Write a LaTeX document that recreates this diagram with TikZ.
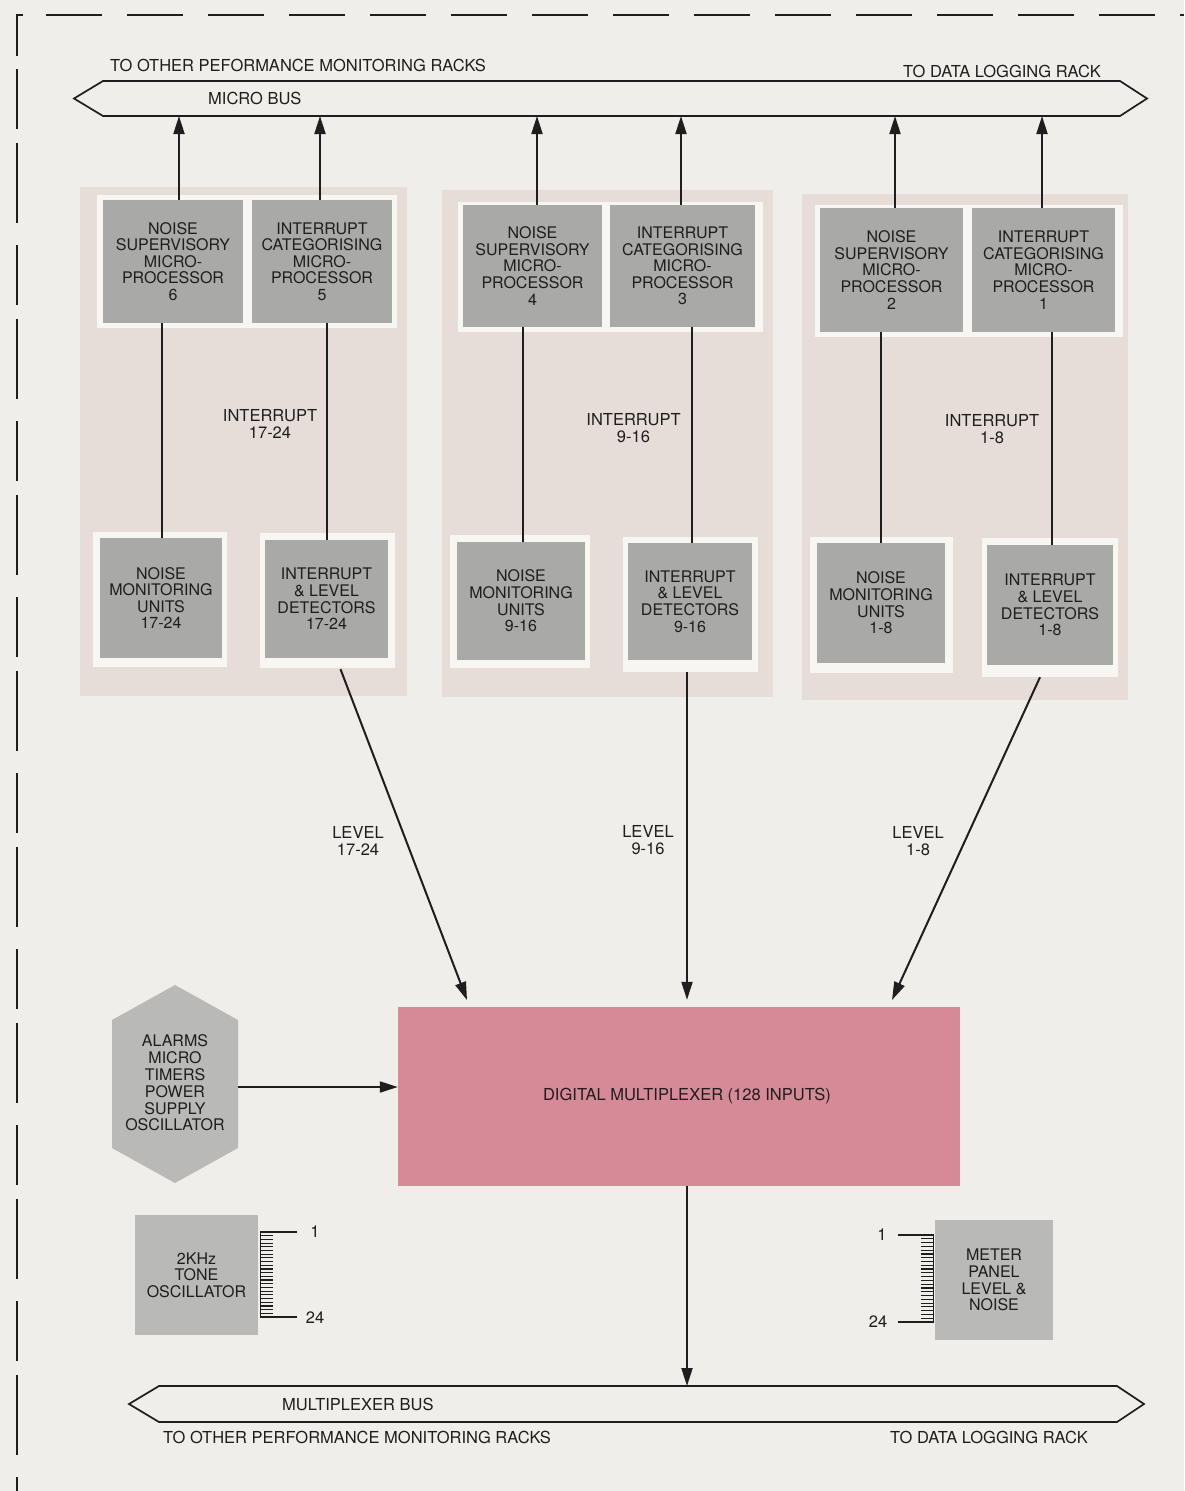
\documentclass[tikz,border=0pt]{standalone}
\usepackage{fontspec}
\setmainfont{TeX Gyre Heros}
\usetikzlibrary{arrows.meta,calc}
\definecolor{pagebg}{HTML}{EFEEEA}
\definecolor{panelc}{HTML}{E6DDD8}
\definecolor{framec}{HTML}{F7F6F3}
\definecolor{boxgray}{HTML}{A9A9A7}
\definecolor{lightgray}{HTML}{B9B9B7}
\definecolor{muxpink}{HTML}{D68A98}
\definecolor{ink}{HTML}{1E1E1E}
\begin{document}
\begin{tikzpicture}[x=1pt,y=-1pt,
  gbox/.style 2 args={fill=boxgray,inner sep=0pt,minimum width=#1,minimum height=#2,align=center,text=ink,font=\fontsize{16}{16.6}\selectfont},
  lbl/.style={inner sep=0pt,text=ink,align=center,font=\fontsize{16.5}{17}\selectfont},
  conn/.style={draw=ink,line width=2pt},
  arr/.style={draw=ink,line width=2pt,-{Triangle[length=18pt,width=11pt]}},
  bus/.style={draw=ink,line width=1.7pt,line join=miter},
  tick/.style={draw=ink,line width=1.2pt}]
\useasboundingbox[fill=pagebg] (0,0) rectangle (1184,1491);
% dashed frame
\draw[ink,line width=1.6pt] (23,15) -- (17,15) -- (17,56);
\draw[ink,line width=1.6pt,dash pattern=on 56pt off 25pt] (46,15) -- (1184,15);
\draw[ink,line width=1.6pt,dash pattern=on 60pt off 14pt on 80pt off 22pt] (17,69) -- (17,1491);
% rack panels
\fill[panelc] (80,187) rectangle (407,696);
\fill[panelc] (442,190) rectangle (773,697);
\fill[panelc] (802,194) rectangle (1128,700);
% white frames
\fill[framec] (97,195) rectangle (397,328);
\fill[framec] (93,532) rectangle (227,667);
\fill[framec] (260,533) rectangle (395,668);
\fill[framec] (458,202) rectangle (763,332);
\fill[framec] (450,535) rectangle (590,668);
\fill[framec] (623,537) rectangle (758,672);
\fill[framec] (815,205) rectangle (1123,337);
\fill[framec] (810,537) rectangle (953,673);
\fill[framec] (982,538) rectangle (1118,677);
% buses
\draw[bus] (74,98.5) -- (103,81) -- (1120,81) -- (1147,98.5) -- (1120,116) -- (103,116) -- cycle;
\coordinate (mbusS) at (600,116);
\draw[bus] (129,1404) -- (159,1386) -- (1117,1386) -- (1144,1404) -- (1117,1422) -- (159,1422) -- cycle;
\coordinate (xbusN) at (600,1386);
% rack 1
\node[gbox={140}{123}] (nsmp6) at (173,261.5) {NOISE\\SUPERVISORY\\MICRO-\\PROCESSOR\\6};
\node[gbox={140}{123}] (icmp5) at (322,261.5) {INTERRUPT\\CATEGORISING\\MICRO-\\PROCESSOR\\5};
\node[gbox={122}{120}] (nmu3) at (161,598) {NOISE\\MONITORING\\UNITS\\17-24};
\node[gbox={123}{118}] (ild3) at (326.5,599) {INTERRUPT\\\& LEVEL\\DETECTORS\\17-24};
% rack 2
\node[gbox={139}{122}] (nsmp4) at (532.5,266) {NOISE\\SUPERVISORY\\MICRO-\\PROCESSOR\\4};
\node[gbox={145}{122}] (icmp3) at (682.5,266) {INTERRUPT\\CATEGORISING\\MICRO-\\PROCESSOR\\3};
\node[gbox={128}{118}] (nmu2) at (521,601) {NOISE\\MONITORING\\UNITS\\9-16};
\node[gbox={124}{117}] (ild2) at (690,601.5) {INTERRUPT\\\& LEVEL\\DETECTORS\\9-16};
% rack 3
\node[gbox={143}{124}] (nsmp2) at (891.5,270) {NOISE\\SUPERVISORY\\MICRO-\\PROCESSOR\\2};
\node[gbox={143}{124}] (icmp1) at (1043.5,270) {INTERRUPT\\CATEGORISING\\MICRO-\\PROCESSOR\\1};
\node[gbox={128}{120}] (nmu1) at (881,603) {NOISE\\MONITORING\\UNITS\\1-8};
\node[gbox={126}{120}] (ild1) at (1050,605) {INTERRUPT\\\& LEVEL\\DETECTORS\\1-8};
% up arrows to micro bus
\foreach \n/\s in {nsmp6/6,icmp5/-2,nsmp4/4.5,icmp3/-1.5,nsmp2/3.5,icmp1/-1.5}
  \draw[arr] ([xshift=\s pt]\n.north) -- ([xshift=\s pt]\n.north |- mbusS);
% vertical links
\draw[conn] ([xshift=-11pt]nsmp6.south) -- ([xshift=-11pt]nsmp6.south |- nmu3.north);
\draw[conn] ([xshift=5pt]icmp5.south) -- ([xshift=5pt]icmp5.south |- ild3.north);
\draw[conn] ([xshift=-9.5pt]nsmp4.south) -- ([xshift=-9.5pt]nsmp4.south |- nmu2.north);
\draw[conn] ([xshift=9.5pt]icmp3.south) -- ([xshift=9.5pt]icmp3.south |- ild2.north);
\draw[conn] ([xshift=-10.5pt]nsmp2.south) -- ([xshift=-10.5pt]nsmp2.south |- nmu1.north);
\draw[conn] ([xshift=8.5pt]icmp1.south) -- ([xshift=8.5pt]icmp1.south |- ild1.north);
% labels
\node[lbl,anchor=west] (tl1) at (110,65) {TO OTHER PEFORMANCE MONITORING RACKS};
\node[lbl,anchor=west] (tl2) at (903,71) {TO DATA LOGGING RACK};
\node[lbl,anchor=west] (mbl) at (208,98.5) {MICRO BUS};
\node[lbl] (int3) at (270,424) {INTERRUPT\\17-24};
\node[lbl] (int2) at (633.5,428) {INTERRUPT\\9-16};
\node[lbl] (int1) at (992,429) {INTERRUPT\\1-8};
\node[lbl] (lv3) at (358,841) {LEVEL\\17-24};
\node[lbl] (lv2) at (648,840) {LEVEL\\9-16};
\node[lbl] (lv1) at (918,841) {LEVEL\\1-8};
% multiplexer
\node[fill=muxpink,minimum width=562,minimum height=179,inner sep=0pt,text=ink,font=\fontsize{16.5}{17}\selectfont] (mux) at (679,1096.5) {\hspace*{16pt}DIGITAL MULTIPLEXER (128 INPUTS)};
% level arrows
\coordinate (l3e) at (467,1000);
\coordinate (l1e) at (892,1000);
\draw[arr] ([xshift=14pt,yshift=-11pt]ild3.south) -- (l3e);
\draw[arr] ([xshift=-3pt,yshift=-12pt]ild2.south) -- ([xshift=-3pt,yshift=7pt]ild2.south |- mux.north);
\draw[arr] ([xshift=-10pt,yshift=-12pt]ild1.south) -- (l1e);
% hexagon
\fill[lightgray] (175,985) -- (238,1020) -- (238,1148) -- (175,1183) -- (112,1148) -- (112,1020) -- cycle;
\node[lbl,minimum width=126,font=\fontsize{16}{16.8}\selectfont] (hex) at (175,1083) {ALARMS\\MICRO\\TIMERS\\POWER\\SUPPLY\\OSCILLATOR};
\draw[arr] ([yshift=-4pt]hex.east) -- ([yshift=-4pt]hex.east -| mux.west);
% mux to multiplexer bus
\draw[arr] ([xshift=8pt]mux.south) -- ([xshift=8pt]mux.south |- xbusN);
% tone oscillator
\node[gbox={123}{120},fill=lightgray] (tone) at (196.5,1275) {2KHz\\TONE\\OSCILLATOR};
\foreach \i in {0,...,23} \draw[tick] (260,{1232+\i*85/23}) -- (273,{1232+\i*85/23});
\draw[tick] (260.5,1231) -- (260.5,1318);
\coordinate (t1) at (297,1232);
\coordinate (t24) at (297,1317);
\draw[tick,line width=1.6pt] (260,1232) -- (t1);
\draw[tick,line width=1.6pt] (273,1317) -- (t24);
\node[lbl] (t1l) at (315,1232) {1};
\node[lbl] (t24l) at (315,1318) {24};
% meter panel
\node[gbox={118}{120},fill=lightgray] (meter) at (994,1280) {METER\\PANEL\\LEVEL \&\\NOISE};
\foreach \i in {0,...,23} \draw[tick] (921,{1235+\i*87/23}) -- (934,{1235+\i*87/23});
\draw[tick] (933.5,1234) -- (933.5,1323);
\coordinate (m1) at (898,1235);
\coordinate (m24) at (898,1322);
\draw[tick,line width=1.6pt] (934,1235) -- (m1);
\draw[tick,line width=1.6pt] (921,1322) -- (m24);
\node[lbl] (m1l) at (882,1235) {1};
\node[lbl] (m24l) at (878,1322) {24};
% bottom bus labels
\node[lbl,anchor=west] (xbl) at (282,1404) {MULTIPLEXER BUS};
\node[lbl,anchor=west] (bl1) at (163,1437) {TO OTHER PERFORMANCE MONITORING RACKS};
\node[lbl,anchor=west] (bl2) at (890,1437) {TO DATA LOGGING RACK};
\end{tikzpicture}
\end{document}
